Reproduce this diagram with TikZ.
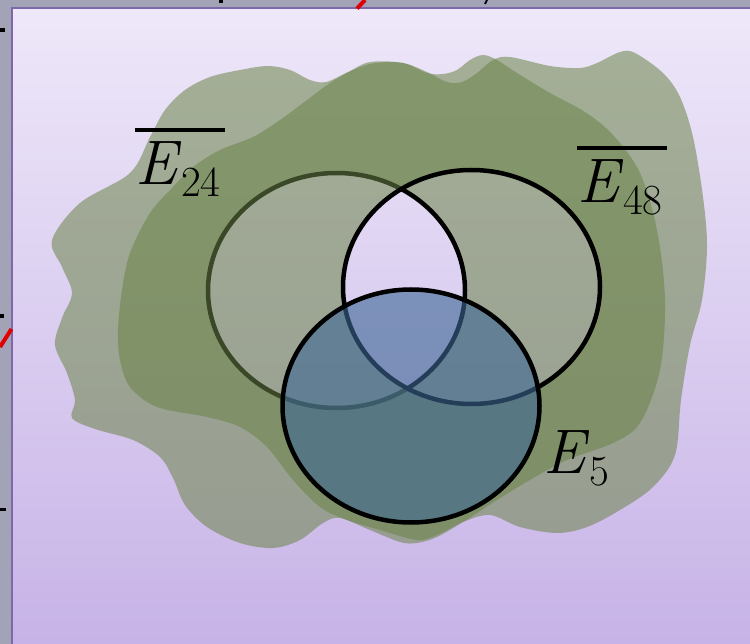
\documentclass[tikz,border=0pt]{standalone}
\usepackage{fontspec}
\usepackage{tikz}
\definecolor{outergray}{HTML}{A3A3B8}
\definecolor{framepurple}{HTML}{7D68AA}
\definecolor{bgtop}{HTML}{EEE8F9}
\definecolor{bgbottom}{HTML}{C7B3E7}
\definecolor{blobgreen}{HTML}{6B8448}
\definecolor{setblue}{HTML}{3D6895}
\definecolor{markred}{HTML}{E00000}
\newcommand\myovl[1]{\vbox{\hrule height 4pt\kern 10pt\hbox{#1}}}
\newcommand\mysub[1]{\raisebox{-12pt}{\fontsize{43}{43}\selectfont #1}}
\tikzset{
  blob/.style={fill=blobgreen, fill opacity=0.55, even odd rule},
  setline/.style={draw=black, line width=4.5pt},
  setfill/.style={fill=setblue, fill opacity=0.6},
  lab/.style={inner sep=0pt, font=\fontsize{63}{63}\selectfont},
  tick/.style={fill=black},
}
\begin{document}
\begin{tikzpicture}[x=1pt,y=-1pt]
\useasboundingbox (0,0) rectangle (750,644);
% outer slide area
\fill[outergray] (0,0) rectangle (750,644);
\shade[top color=bgtop, bottom color=bgbottom] (13,9) rectangle (750,644);
\draw[framepurple, line width=2.5pt] (12,644) -- (12,8) -- (750,8);
% marks of the surrounding slide
\fill[tick] (0,28.5) rectangle (5,32);
\fill[tick] (0,314.5) rectangle (4,318);
\fill[tick] (0,507.5) rectangle (6,511);
\fill[tick] (219,0) rectangle (223,3);
\draw[black, line width=2pt] (487,0) -- (485,4);
\draw[markred, line width=4pt] (357,8.5) -- (365,0);
\draw[markred, line width=4pt] (0,347) -- (11.5,329);
% complement of E24
\path[blob] plot[smooth cycle, tension=0.55] coordinates {
 (52,240) (80,203) (130,173) (150,137) (165,110) (185,90) (210,77) (240,70)
 (268,66) (290,70) (310,80) (326,82) (348,72) (370,62) (403,63) (427,73)
 (443,74) (457,70) (470,60) (483,55) (497,60) (517,73) (550,93) (585,112)
 (613,135) (640,173) (657,230) (665,300) (660,370) (640,423) (613,443)
 (567,460) (530,480) (497,500) (463,522) (437,537) (417,543) (400,542)
 (370,530) (340,518) (323,523) (300,540) (273,548) (240,543) (207,527)
 (185,505) (173,478) (160,457) (133,440) (95,429) (72,418) (75,400)
 (67,373) (55,345) (62,318) (72,293) (62,267) }
 (336.5,290.5) ellipse [x radius=128.5pt, y radius=117.5pt];
\draw[setline] (336.5,290.5) ellipse [x radius=128.5pt, y radius=117.5pt];
% complement of E48
\path[blob] plot[smooth cycle, tension=0.55] coordinates {
 (118,330) (122,290) (130,253) (150,213) (173,187) (193,167) (220,150)
 (253,137) (280,120) (307,100) (330,83) (353,70) (375,63) (403,63) (427,72)
 (447,82) (462,82) (477,73) (493,60) (510,57) (550,66) (580,68) (597,63)
 (620,52) (635,53) (663,73) (680,97) (693,137) (703,197) (707,247)
 (702,300) (690,345) (681,400) (675,455) (653,487) (620,510) (587,527)
 (557,533) (520,527) (490,515) (463,522) (437,535) (417,540) (380,530)
 (347,520) (320,507) (293,480) (267,447) (240,427) (207,417) (157,407)
 (130,387) (120,360) }
 (471.5,287) ellipse [x radius=128.5pt, y radius=117pt];
\draw[setline] (471.5,287) ellipse [x radius=128.5pt, y radius=117pt];
% E5
\path[setfill] (411,406) ellipse [x radius=128.5pt, y radius=116.5pt];
\draw[setline] (411,406) ellipse [x radius=128.5pt, y radius=116.5pt];
% labels
\node[lab, anchor=base west] (l24) at (135,185) {\myovl{\textit{E}\mysub{24}\kern4pt}};
\node[lab, anchor=base west] (l48) at (577,203) {\myovl{\textit{E}\mysub{48}\kern4pt}};
\node[lab, anchor=base west] (l5) at (543,473) {\textit{E}\mysub{5}};
\end{tikzpicture}
\end{document}
